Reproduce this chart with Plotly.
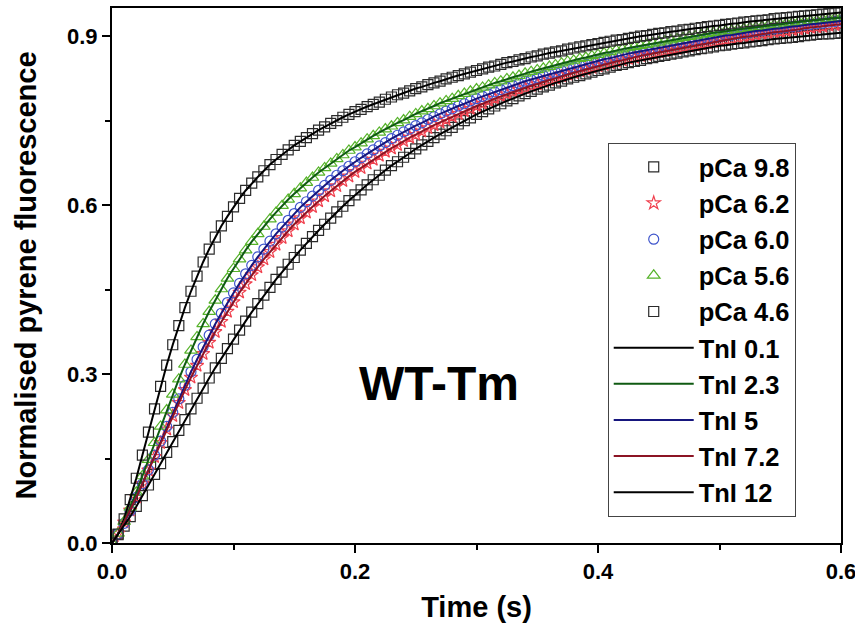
import plotly.graph_objects as go

# Sampling grid of the stopped-flow traces (s)
time_s = [round(i * 0.005, 3) for i in range(121)]

# Normalised pyrene fluorescence, WT-Tm, one trace per pCa
pca_9_8 = [
    0.000, 0.015, 0.030, 0.047, 0.065, 0.084, 0.103, 0.122, 0.141, 0.161,
    0.180, 0.200, 0.219, 0.238, 0.257, 0.275, 0.293, 0.311, 0.328, 0.345,
    0.362, 0.378, 0.394, 0.410, 0.425, 0.440, 0.454, 0.468, 0.481, 0.495,
    0.507, 0.520, 0.532, 0.544, 0.555, 0.566, 0.577, 0.588, 0.598, 0.608,
    0.618, 0.627, 0.636, 0.645, 0.653, 0.662, 0.670, 0.677, 0.685, 0.692,
    0.700, 0.707, 0.713, 0.720, 0.726, 0.732, 0.738, 0.744, 0.750, 0.755,
    0.761, 0.766, 0.771, 0.776, 0.780, 0.785, 0.789, 0.794, 0.798, 0.802,
    0.806, 0.810, 0.813, 0.817, 0.820, 0.824, 0.827, 0.830, 0.833, 0.836,
    0.839, 0.842, 0.845, 0.848, 0.850, 0.853, 0.855, 0.857, 0.860, 0.862,
    0.864, 0.866, 0.868, 0.870, 0.872, 0.874, 0.876, 0.878, 0.879, 0.881,
    0.883, 0.884, 0.886, 0.887, 0.888, 0.890, 0.891, 0.892, 0.894, 0.895,
    0.896, 0.897, 0.898, 0.899, 0.901, 0.902, 0.903, 0.904, 0.904, 0.905,
    0.906,
]
pca_6_2 = [
    0.000, 0.017, 0.037, 0.058, 0.081, 0.105, 0.129, 0.153, 0.178, 0.202,
    0.226, 0.249, 0.272, 0.294, 0.315, 0.336, 0.356, 0.375, 0.393, 0.411,
    0.428, 0.445, 0.460, 0.476, 0.490, 0.504, 0.517, 0.530, 0.542, 0.554,
    0.566, 0.577, 0.587, 0.597, 0.607, 0.616, 0.625, 0.634, 0.643, 0.651,
    0.659, 0.666, 0.674, 0.681, 0.688, 0.695, 0.701, 0.707, 0.714, 0.720,
    0.725, 0.731, 0.737, 0.742, 0.747, 0.752, 0.757, 0.762, 0.767, 0.771,
    0.776, 0.780, 0.785, 0.789, 0.793, 0.797, 0.801, 0.805, 0.808, 0.812,
    0.815, 0.819, 0.822, 0.825, 0.829, 0.832, 0.835, 0.838, 0.841, 0.844,
    0.847, 0.849, 0.852, 0.855, 0.857, 0.860, 0.862, 0.865, 0.867, 0.869,
    0.872, 0.874, 0.876, 0.878, 0.880, 0.882, 0.884, 0.886, 0.888, 0.890,
    0.892, 0.894, 0.895, 0.897, 0.899, 0.900, 0.902, 0.904, 0.905, 0.907,
    0.908, 0.909, 0.911, 0.912, 0.914, 0.915, 0.916, 0.917, 0.919, 0.920,
    0.921,
]
pca_6_0 = [
    0.000, 0.016, 0.035, 0.057, 0.081, 0.105, 0.130, 0.156, 0.181, 0.207,
    0.232, 0.256, 0.280, 0.304, 0.326, 0.348, 0.369, 0.389, 0.408, 0.427,
    0.444, 0.461, 0.478, 0.493, 0.508, 0.522, 0.536, 0.549, 0.561, 0.573,
    0.585, 0.596, 0.606, 0.616, 0.626, 0.635, 0.644, 0.653, 0.661, 0.669,
    0.677, 0.684, 0.691, 0.698, 0.705, 0.711, 0.718, 0.724, 0.730, 0.735,
    0.741, 0.746, 0.752, 0.757, 0.762, 0.767, 0.771, 0.776, 0.780, 0.785,
    0.789, 0.793, 0.797, 0.801, 0.805, 0.809, 0.812, 0.816, 0.820, 0.823,
    0.826, 0.830, 0.833, 0.836, 0.839, 0.842, 0.845, 0.848, 0.850, 0.853,
    0.856, 0.859, 0.861, 0.864, 0.866, 0.869, 0.871, 0.873, 0.875, 0.878,
    0.880, 0.882, 0.884, 0.886, 0.888, 0.890, 0.892, 0.894, 0.895, 0.897,
    0.899, 0.901, 0.902, 0.904, 0.905, 0.907, 0.909, 0.910, 0.912, 0.913,
    0.914, 0.916, 0.917, 0.918, 0.920, 0.921, 0.922, 0.923, 0.925, 0.926,
    0.927,
]
pca_5_6 = [
    0.000, 0.017, 0.038, 0.063, 0.090, 0.119, 0.148, 0.178, 0.207, 0.236,
    0.264, 0.291, 0.317, 0.342, 0.366, 0.389, 0.411, 0.431, 0.451, 0.470,
    0.487, 0.504, 0.520, 0.535, 0.549, 0.562, 0.575, 0.587, 0.599, 0.610,
    0.620, 0.630, 0.640, 0.649, 0.658, 0.666, 0.674, 0.682, 0.689, 0.697,
    0.703, 0.710, 0.717, 0.723, 0.729, 0.735, 0.740, 0.746, 0.751, 0.757,
    0.762, 0.767, 0.771, 0.776, 0.781, 0.785, 0.789, 0.794, 0.798, 0.802,
    0.806, 0.809, 0.813, 0.817, 0.820, 0.824, 0.827, 0.830, 0.834, 0.837,
    0.840, 0.843, 0.846, 0.849, 0.852, 0.855, 0.857, 0.860, 0.862, 0.865,
    0.867, 0.870, 0.872, 0.875, 0.877, 0.879, 0.881, 0.883, 0.885, 0.887,
    0.889, 0.891, 0.893, 0.895, 0.897, 0.899, 0.900, 0.902, 0.904, 0.906,
    0.907, 0.909, 0.910, 0.912, 0.913, 0.915, 0.916, 0.917, 0.919, 0.920,
    0.921, 0.923, 0.924, 0.925, 0.926, 0.927, 0.928, 0.930, 0.931, 0.932,
    0.933,
]
pca_4_6 = [
    0.000, 0.016, 0.043, 0.077, 0.115, 0.156, 0.197, 0.238, 0.278, 0.316,
    0.352, 0.386, 0.418, 0.447, 0.474, 0.499, 0.522, 0.543, 0.563, 0.580,
    0.597, 0.612, 0.626, 0.639, 0.650, 0.661, 0.672, 0.681, 0.690, 0.698,
    0.706, 0.713, 0.720, 0.727, 0.733, 0.739, 0.745, 0.750, 0.756, 0.761,
    0.766, 0.770, 0.775, 0.779, 0.783, 0.788, 0.792, 0.796, 0.799, 0.803,
    0.807, 0.810, 0.814, 0.817, 0.820, 0.824, 0.827, 0.830, 0.833, 0.836,
    0.839, 0.842, 0.845, 0.847, 0.850, 0.853, 0.855, 0.858, 0.860, 0.863,
    0.865, 0.868, 0.870, 0.872, 0.874, 0.877, 0.879, 0.881, 0.883, 0.885,
    0.887, 0.889, 0.891, 0.893, 0.894, 0.896, 0.898, 0.900, 0.901, 0.903,
    0.905, 0.906, 0.908, 0.909, 0.911, 0.912, 0.914, 0.915, 0.917, 0.918,
    0.919, 0.921, 0.922, 0.923, 0.925, 0.926, 0.927, 0.928, 0.929, 0.931,
    0.932, 0.933, 0.934, 0.935, 0.936, 0.937, 0.938, 0.939, 0.940, 0.941,
    0.942,
]

# Marker series (data)
pca_labels = ["pCa 9.8", "pCa 6.2", "pCa 6.0", "pCa 5.6", "pCa 4.6"]
pca_values = [pca_9_8, pca_6_2, pca_6_0, pca_5_6, pca_4_6]
pca_symbols = ["square-open", "star-open", "circle-open", "triangle-up-open", "square-open"]
pca_colors = ["#2b2b2b", "#f0404e", "#3f55cc", "#56b32a", "#2b2b2b"]
pca_sizes = [10, 10, 10, 11, 10]

# Fitted curves, one per TnI level
tni_labels = ["TnI 0.1", "TnI 2.3", "TnI 5", "TnI 7.2", "TnI 12"]
tni_values = [pca_4_6, pca_5_6, pca_6_0, pca_6_2, pca_9_8]
tni_colors = ["#000000", "#0f5a12", "#16167e", "#8c1424", "#000000"]

# Axis ticks
x_ticks = [0.0, 0.2, 0.4, 0.6]
y_ticks = [0.0, 0.3, 0.6, 0.9]

FONT = "Liberation Sans, Arial, sans-serif"

fig = go.Figure()

for name, vals, sym, col, size in zip(pca_labels, pca_values, pca_symbols, pca_colors, pca_sizes):
    fig.add_trace(go.Scatter(
        x=time_s, y=vals, name=name, mode="markers",
        marker=dict(symbol=sym, size=size, color=col, line=dict(color=col, width=1.2)),
    ))

for name, vals, col in zip(tni_labels, tni_values, tni_colors):
    fig.add_trace(go.Scatter(
        x=time_s, y=vals, name=name, mode="lines",
        line=dict(color=col, width=2),
    ))

axis_common = dict(
    showline=True, linewidth=2, linecolor="black", mirror=True,
    ticks="outside", ticklen=8, tickwidth=2, tickcolor="black",
    showgrid=False, zeroline=False, tickformat=".1f", tickmode="array",
    ticklabeloverflow="allow", automargin=False,
    tickfont=dict(family=FONT, size=22, color="black", weight="bold"),
)

fig.update_xaxes(
    range=[0, 0.6], tickvals=x_ticks,
    minor=dict(dtick=0.1, tick0=0, ticks="outside", ticklen=5, tickwidth=2,
               tickcolor="black", showgrid=False),
    title=dict(text="Time (s)", standoff=13,
               font=dict(family=FONT, size=29, color="black", weight="bold")),
    **axis_common,
)
fig.update_yaxes(
    range=[0, 0.95], tickvals=y_ticks,
    minor=dict(dtick=0.15, tick0=0, ticks="outside", ticklen=5, tickwidth=2,
               tickcolor="black", showgrid=False),
    title=dict(text="Normalised pyrene fluorescence", standoff=22,
               font=dict(family=FONT, size=29, color="black", weight="bold")),
    **axis_common,
)

fig.add_annotation(
    x=0.269, y=0.284, xref="x", yref="y", text="WT-Tm", showarrow=False,
    font=dict(family=FONT, size=48, color="black", weight="bold"),
)

fig.update_layout(
    width=855, height=634,
    margin=dict(l=112, r=14, t=8, b=91),
    paper_bgcolor="white", plot_bgcolor="white",
    showlegend=True,
    legend=dict(
        x=0.680, y=0.748, xanchor="left", yanchor="top",
        bgcolor="white", bordercolor="#444444", borderwidth=1,
        font=dict(family=FONT, size=25.5, color="black", weight="bold"),
        itemwidth=80, tracegroupgap=0, traceorder="normal",
    ),
)

fig.write_html("out.html")
